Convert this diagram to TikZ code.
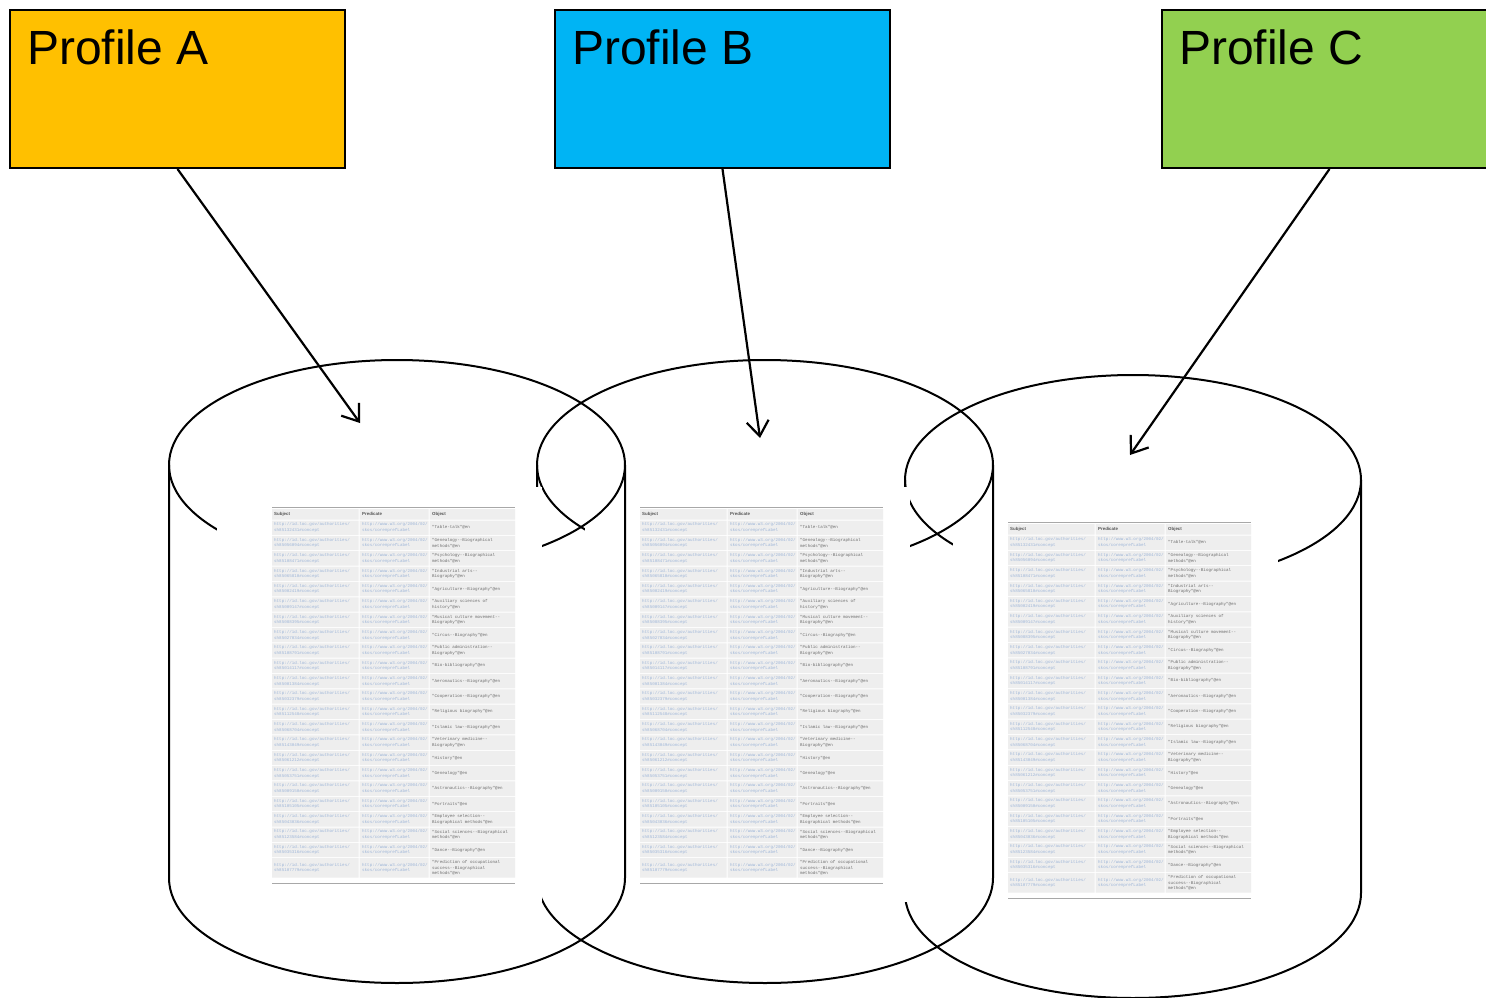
\documentclass[tikz,border=0pt]{standalone}
\usepackage{fontspec}
\setmainfont{Liberation Sans}
\newfontfamily\tabmono{Liberation Mono}
\usetikzlibrary{arrows.meta}
\definecolor{profA}{HTML}{FFC000}
\definecolor{profB}{HTML}{00B4F4}
\definecolor{profC}{HTML}{92D050}
\definecolor{cellgray}{HTML}{EEEEEE}
\definecolor{linkblue}{HTML}{9DB5D8}
\definecolor{objgray}{HTML}{6E6E6E}
\definecolor{hdrgray}{HTML}{555555}
\definecolor{rulegray}{HTML}{A8A8A8}
\tikzset{
 profbox/.style={draw=black, line width=2pt, minimum width=335pt, minimum height=158pt, inner sep=0pt, anchor=north west},
 proflabel/.style={anchor=base west, inner sep=0pt, font=\fontsize{48}{56}\selectfont},
 conn/.style={draw=black, line width=2.2pt, -{Straight Barb[length=15pt,width=22pt]}},
 cylline/.style={draw=black, line width=2pt},
 mask/.style={fill=white, draw=none},
 tabhdr/.style={anchor=west, inner sep=0pt, text=hdrgray, font=\bfseries\fontsize{4.4}{5.5}\selectfont},
 tablink/.style={anchor=west, inner sep=0pt, align=left, text=linkblue, font=\tabmono\fontsize{4.2}{5.6}\selectfont},
 tabobj/.style={anchor=west, inner sep=0pt, align=left, text=objgray, font=\tabmono\fontsize{4.2}{5.6}\selectfont},
}
\newcommand\mycylinder[2]{%
\begin{scope}[shift={(#1,#2)}]
 \draw[cylline] (397,465) ellipse [x radius=228pt, y radius=105pt];
 \draw[cylline] (169,465) -- (169,878) arc[start angle=180, end angle=360, x radius=228pt, y radius=105pt] -- (625,465);
\end{scope}}
\newcommand\rdftable[3]{%
\begin{scope}[shift={(#2,#3)}]
 \fill[mask] (217,487) rectangle (542,902);
 \draw[rulegray, line width=1pt] (272,507.5) -- (515,507.5);
 \fill[cellgray] (272,509) rectangle (358.5,519.5) (359.5,509) rectangle (428.5,519.5) (429.5,509) rectangle (515,519.5);
 \node[tabhdr] (#1h1) at (274,514.3) {Subject};
 \node[tabhdr] (#1h2) at (362,514.3) {Predicate};
 \node[tabhdr] (#1h3) at (432,514.3) {Object};
 \foreach \i/\sid/\obj in {
  1/85132431/{"Table-talk"@en},
  2/85056094/{"Genealogy-{}-Biographical\\methods"@en},
  3/85108471/{"Psychology-{}-Biographical\\methods"@en},
  4/85065810/{"Industrial arts-{}-\\Biography"@en},
  5/85002419/{"Agriculture-{}-Biography"@en},
  6/85009147/{"Auxiliary sciences of\\history"@en},
  7/85088395/{"Musical culture movement-{}-\\Biography"@en},
  8/85027034/{"Circus-{}-Biography"@en},
  9/85108791/{"Public administration-{}-\\Biography"@en},
  10/85014117/{"Bio-bibliography"@en},
  11/85001384/{"Aeronautics-{}-Biography"@en},
  12/85032379/{"Cooperation-{}-Biography"@en},
  13/85112548/{"Religious biography"@en},
  14/85068704/{"Islamic law-{}-Biography"@en},
  15/85143049/{"Veterinary medicine-{}-\\Biography"@en},
  16/85061212/{"History"@en},
  17/85053751/{"Genealogy"@en},
  18/85009150/{"Astronautics-{}-Biography"@en},
  19/85105105/{"Portraits"@en},
  20/85043036/{"Employee selection-{}-\\Biographical methods"@en},
  21/85123584/{"Social sciences-{}-Biographical\\methods"@en},
  22/85035316/{"Dance-{}-Biography"@en},
  23/85107779/{"Prediction of occupational\\success-{}-Biographical\\methods"@en}}{
   \pgfmathsetmacro\yt{520+(\i-1)*15.35}
   \pgfmathsetmacro\yb{\i==23 ? 878 : \yt+15.35}
   \pgfmathsetmacro\ym{(\yt+\yb)/2}
   \fill[cellgray] (272,\yt+0.5) rectangle (358.5,\yb-0.5) (359.5,\yt+0.5) rectangle (428.5,\yb-0.5) (429.5,\yt+0.5) rectangle (515,\yb-0.5);
   \node[tablink] (#1s\i) at (274,\ym) {http://id.loc.gov/authorities/\\sh\sid\#concept};
   \node[tablink] (#1p\i) at (362,\ym) {http://www.w3.org/2004/02/\\skos/core\#prefLabel};
   \node[tabobj] (#1o\i) at (432,\ym) {\obj};
 }
 \draw[rulegray, line width=1pt] (272,883) -- (515,883);
\end{scope}}
\begin{document}
\begin{tikzpicture}[x=1pt,y=-1pt]
\useasboundingbox (0,0) rectangle (1486,998);
% back to front
\mycylinder{736}{15}
\rdftable{C}{736}{15}
\mycylinder{368}{0}
\rdftable{B}{368}{0}
\mycylinder{0}{0}
\rdftable{A}{0}{0}
% profile boxes
\node[profbox, fill=profA] (pA) at (9,9) {};
\node[profbox, fill=profB] (pB) at (554,9) {};
\node[profbox, fill=profC] (pC) at (1161,9) {};
\node[proflabel] (tA) at (27,64) {Profile A};
\node[proflabel] (tB) at (572,64) {Profile B};
\node[proflabel] (tC) at (1179,64) {Profile C};
% connectors
\coordinate (eA) at (360,423);
\coordinate (eB) at (760,438);
\coordinate (eC) at (1130,455);
\draw[conn] (pA.south) -- (eA);
\draw[conn] (pB.south) -- (eB);
\draw[conn] (pC.south) -- (eC);
\end{tikzpicture}
\end{document}
